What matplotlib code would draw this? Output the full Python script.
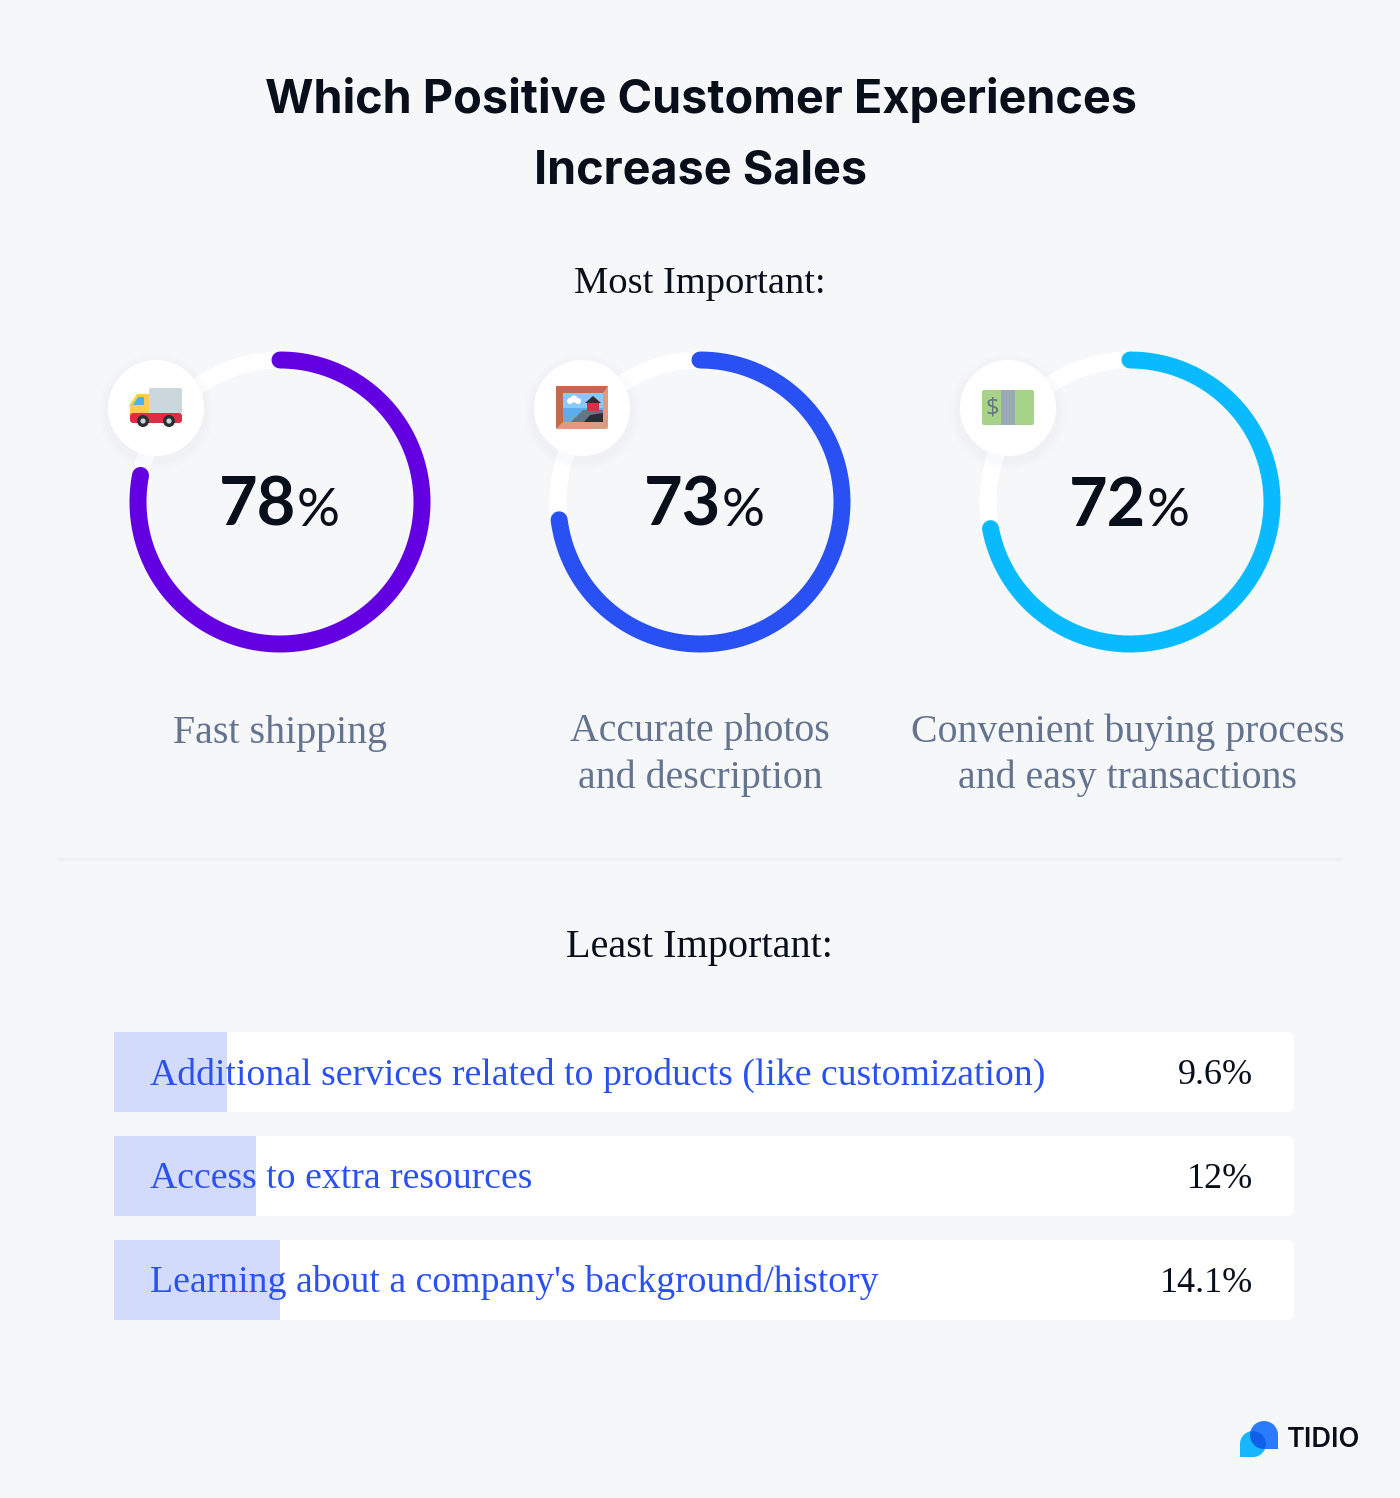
import numpy as np
import matplotlib.pyplot as plt
from matplotlib.patches import Circle, FancyBboxPatch, Polygon, Rectangle

FONDO = '#f6f7f9'
OSCURO = '#080f1a'
GRIS = '#64748f'
AZUL = '#2a50f0'

mas_importantes = [
    (78, 'Fast shipping', '#6300e2', 280, 156, 280),
    (73, 'Accurate photos\nand description', '#2850f2', 700, 582, 705),
    (72, 'Convenient buying process\nand easy transactions', '#0abaff', 1130, 1008, 1130),
]

menos_importantes = [
    ('Additional services related to products (like customization)', 9.6, '9.6%'),
    ('Access to extra resources', 12, '12%'),
    ("Learning about a company's background/history", 14.1, '14.1%'),
]

def caja(x, y, w, h, color, r=2, zorder=5):
    plt.gca().add_patch(FancyBboxPatch((x + r, y + r), w - 2 * r, h - 2 * r,
                                       boxstyle=f"round,pad={r},rounding_size={r}",
                                       fc=color, ec='none', zorder=zorder))

# --- Iconos ---

def icono_camion(cx, cy):
    caja(cx - 7, cy - 20, 33, 26, '#ccd6dd')
    plt.gca().add_patch(Polygon([(cx - 26, cy + 7), (cx - 26, cy - 4), (cx - 19, cy - 14), (cx - 7, cy - 14),
                                 (cx - 7, cy + 7)], fc='#ffcc4d', ec='none', zorder=5))
    plt.gca().add_patch(Polygon([(cx - 23, cy - 3), (cx - 18, cy - 11), (cx - 12, cy - 11), (cx - 12, cy - 3)],
                                fc='#55acee', ec='none', zorder=6))
    caja(cx - 26, cy + 5, 52, 10, '#dd2e44', r=3)
    for dx in (-13, 13):
        plt.gca().add_patch(Circle((cx + dx, cy + 13), 6, fc='#292f33', ec='none', zorder=7))
        plt.gca().add_patch(Circle((cx + dx, cy + 13), 2.6, fc='#ccd6dd', ec='none', zorder=8))

def icono_cuadro(cx, cy):
    caja(cx - 26, cy - 22, 52, 43, '#d99e82')
    plt.gca().add_patch(Polygon([(cx - 26, cy - 22), (cx + 26, cy - 22), (cx + 21, cy - 15), (cx - 19, cy - 15),
                                 (cx - 19, cy + 14), (cx - 26, cy + 21)], fc='#c1694f', ec='none', zorder=6))
    plt.gca().add_patch(Rectangle((cx - 19, cy - 15), 40, 29, fc='#88c9f9', ec='none', zorder=7))
    plt.gca().add_patch(Rectangle((cx - 19, cy), 40, 14, fc='#5dadec', ec='none', zorder=7))
    plt.gca().add_patch(Polygon([(cx - 11, cy + 14), (cx + 1, cy + 2), (cx + 21, cy + 2), (cx + 21, cy + 14)],
                                fc='#66757f', ec='none', zorder=8))
    plt.gca().add_patch(Polygon([(cx + 2, cy + 14), (cx + 8, cy + 7), (cx + 21, cy + 5), (cx + 21, cy + 14)],
                                fc='#292f33', ec='none', zorder=9))
    plt.gca().add_patch(Rectangle((cx + 5, cy - 6), 12, 9, fc='#dd2e44', ec='none', zorder=9))
    plt.gca().add_patch(Polygon([(cx + 3, cy - 5), (cx + 11, cy - 12), (cx + 19, cy - 5)],
                                fc='#292f33', ec='none', zorder=10))
    for dx, dy, r in [(-12, -7, 3), (-8, -9, 3.5), (-4, -7, 3)]:
        plt.gca().add_patch(Circle((cx + dx, cy + dy), r, fc='white', ec='none', zorder=8))

def icono_billete(cx, cy):
    caja(cx - 26, cy - 18, 52, 35, '#a6d388')
    plt.gca().add_patch(Rectangle((cx - 7, cy - 18), 14, 35, fc='#99aab5', ec='none', zorder=6))
    plt.text(cx - 16, cy, '$', color='#66757f', fontsize=17, family='Open Sans',
             ha='center', va='center', zorder=7)

iconos = [icono_camion, icono_cuadro, icono_billete]

# --- Graficas ---

def dibujar_anillo(valor, etiqueta, color, cx, ix, tx, icono):
    cy = 502
    radio = 142
    grosor = 17 * 0.72

    t = np.radians(np.linspace(0, 360, 361))
    plt.plot(cx + radio * np.sin(t), cy - radio * np.cos(t), color='white', lw=grosor, zorder=2)
    t = np.radians(np.linspace(0, 360 * valor / 100, 300))
    plt.plot(cx + radio * np.sin(t), cy - radio * np.cos(t), color=color, lw=grosor,
             solid_capstyle='round', zorder=3)

    for r, a in [(58, 0.012), (55, 0.016), (52, 0.02)]:  # sombra
        plt.gca().add_patch(Circle((ix, 412), r, fc='#8a96b0', ec='none', alpha=a, zorder=3.5))
    plt.gca().add_patch(Circle((ix, 408), 48, fc='white', ec='none', zorder=4))
    icono(ix, 408)

    plt.text(tx + 16, 526, str(valor), color=OSCURO, fontsize=48, family='Lato', fontweight='bold',
             ha='right', va='baseline')
    plt.text(tx + 17, 526, '%', color=OSCURO, fontsize=38.5, family='Lato', ha='left', va='baseline')

    y = 734 if '\n' not in etiqueta else 755
    plt.text(cx - (2 if cx > 1000 else 0), y, etiqueta, color=GRIS, fontsize=28.7, family='Liberation Serif',
             ha='center', va='center', linespacing=1.31)

def dibujar_barras():
    y = [1072, 1176, 1280]
    escala = 1180 / 100
    for yi, (nombre, valor, texto) in zip(y, menos_importantes):
        caja(114, yi - 40, 1180, 80, 'white', r=6, zorder=1)
        plt.barh(yi, valor * escala, height=80, left=114, color='#d2dbfc', zorder=2)
        plt.text(150, yi + 3, nombre, color=AZUL, fontsize=27.2, family='Liberation Serif', ha='left', va='center', zorder=3)
        plt.text(1253, yi + 3, texto, color=OSCURO, fontsize=26, family='Liberation Serif', ha='right', va='center', zorder=3)

def dibujar_logo():
    azul = Circle((1264, 1435), 14, fc='#2b7bff', ec='none', zorder=2)
    cian = Circle((1253, 1444), 13, fc='#17b6ff', ec='none', zorder=3)
    plt.gca().add_patch(azul)
    plt.gca().add_patch(Rectangle((1264, 1435), 14, 14, fc='#2b7bff', ec='none', zorder=2))
    plt.gca().add_patch(cian)
    plt.gca().add_patch(Rectangle((1240, 1444), 13, 13, fc='#17b6ff', ec='none', zorder=3))
    cruce = Circle((1253, 1444), 13, fc='#0f5fe8', ec='none', zorder=4)  # parte que se solapa
    plt.gca().add_patch(cruce)
    cruce.set_clip_path(azul)
    plt.text(1287, 1440, 'TIDIO', color=OSCURO, fontsize=19.5, family='Inter', fontweight='semibold', ha='left', va='center')

# --- Main ---

def main():
    plt.figure(figsize=(14, 14.98), dpi=100, facecolor=FONDO)
    plt.axes([0, 0, 1, 1], facecolor=FONDO)
    plt.xlim(0, 1400)
    plt.ylim(1498, 0)
    plt.axis('off')

    plt.text(701, 100, 'Which Positive Customer Experiences', color=OSCURO, fontsize=33.7, family='Inter',
             fontweight='bold', ha='center', va='center')
    plt.text(701, 172, 'Increase Sales', color=OSCURO, fontsize=33.7, family='Inter',
             fontweight='bold', ha='center', va='center')
    plt.text(700, 284, 'Most Important:', color=OSCURO, fontsize=27.7, family='Liberation Serif', ha='center', va='center')
    plt.text(699, 948, 'Least Important:', color=OSCURO, fontsize=29, family='Liberation Serif', ha='center', va='center')

    for (valor, etiqueta, color, cx, ix, tx), icono in zip(mas_importantes, iconos):
        dibujar_anillo(valor, etiqueta, color, cx, ix, tx, icono)

    plt.plot([58, 1341], [858.5, 858.5], color='#eef0f4', lw=2.5)

    dibujar_barras()
    dibujar_logo()

    plt.savefig('out.png', dpi=100, facecolor=FONDO)
    plt.close()

if __name__ == "__main__":
    main()
